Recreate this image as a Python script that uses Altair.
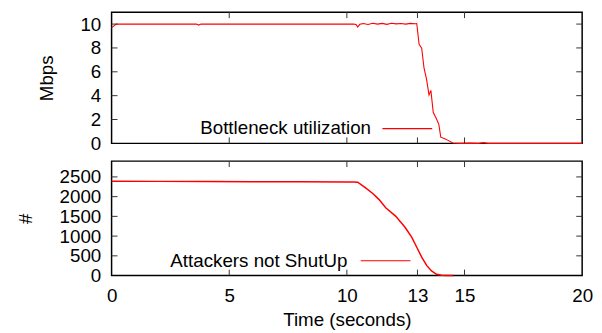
import altair as alt
import pandas as pd

# ---- data ----
util_t = [0.0, 0.1, 0.2, 1.0, 2.0, 3.0, 3.6, 3.7, 3.8, 5.0, 6.0, 7.0, 8.0, 9.0, 10.0,
          10.3, 10.4, 10.46, 10.55, 10.7, 10.9, 11.1, 11.3, 11.5, 11.7, 11.9, 12.1,
          12.3, 12.5, 12.7, 12.9, 12.97, 13.07, 13.18, 13.28, 13.39, 13.49, 13.57,
          13.67, 13.81, 13.91, 13.99, 14.16, 14.3, 14.5, 14.8, 15.2, 15.6, 15.8,
          16.0, 16.5, 17.0, 18.0, 19.0, 20.0]
util_v = [9.7, 9.85, 10.0, 10.0, 10.0, 10.0, 10.0, 9.92, 10.0, 10.0, 10.0, 10.0, 10.0, 10.0, 10.0,
          10.0, 9.95, 9.75, 9.98, 10.05, 9.97, 10.07, 10.0, 10.06, 9.98, 10.07, 10.02,
          10.05, 10.0, 10.06, 10.03, 10.05, 8.3, 7.97, 6.3, 5.35, 4.05, 4.44,
          2.6, 2.04, 1.57, 0.52, 0.39, 0.25, 0.03, 0.0, 0.02, 0.0, 0.06,
          0.0, 0.0, 0.0, 0.0, 0.0, 0.0]

att_t = [0.0, 2.0, 4.0, 6.0, 8.0, 10.0, 10.3, 10.46, 10.81, 11.1, 11.37, 11.65,
         12.07, 12.48, 12.76, 12.97, 13.18, 13.39, 13.6, 13.81, 14.02, 14.3, 14.5]
att_v = [2390, 2387, 2384, 2380, 2376, 2372, 2370, 2367, 2217, 2080, 1925, 1717,
         1508, 1217, 967, 717, 467, 258, 117, 33, 8, 0, 0]

x_labels = [0, 5, 10, 13, 15, 20]
x_ticks = [5, 10, 13, 15]
util_labels = [0, 2, 4, 6, 8, 10]
util_ticks = [2, 4, 6, 8, 10]
att_labels = [0, 500, 1000, 1500, 2000, 2500]
att_ticks = [500, 1000, 1500, 2000, 2500]
legend_top = ["Bottleneck utilization"]
legend_bottom = ["Attackers not ShutUp"]

# ---- styling ----
W = 477
H1 = 133
H2 = 116
FONT = "Liberation Sans"
FS = 19
RED = "#ff0000"
TICK = "#333333"
TL = 6

xscale = alt.Scale(domain=[0, 20], nice=False, zero=False)
y1scale = alt.Scale(domain=[0, 11], nice=False)
y2scale = alt.Scale(domain=[0, 2900], nice=False)

x_axis_top = None
x_axis_bottom = alt.Axis(values=x_labels, title="Time (seconds)", labelPadding=11,
                         titlePadding=6, format="d", labelFlush=False)
y_axis_top = alt.Axis(values=util_labels, title="Mbps", titlePadding=24, format="d")
y_axis_bottom = alt.Axis(values=att_labels, title="#", titlePadding=24, format="d")


def tick_layers(y_vals, yscale, height, xaxis, yaxis):
    xt = pd.DataFrame({"t": x_ticks})
    yt = pd.DataFrame({"v": y_vals})
    out = []
    for y0, y1 in [(height - TL, height), (0, TL)]:
        out.append(alt.Chart(xt).mark_rule(strokeWidth=1).encode(
            x=alt.X("t:Q", scale=xscale, axis=xaxis),
            y=alt.value(y0), y2=alt.value(y1), color=alt.value(TICK)))
    for x0, x1 in [(0, TL), (W - TL, W)]:
        out.append(alt.Chart(yt).mark_rule(strokeWidth=1).encode(
            y=alt.Y("v:Q", scale=yscale, axis=yaxis),
            x=alt.value(x0), x2=alt.value(x1), color=alt.value(TICK)))
    return out


def legend_layers(label, text_x, y, line_x1, line_x2):
    d = pd.DataFrame({"label": label})
    txt = alt.Chart(d).mark_text(align="right", baseline="middle", font=FONT,
                                 fontSize=FS).encode(
        x=alt.value(text_x), y=alt.value(y), text="label:N",
        color=alt.value("black"))
    ln = alt.Chart(d).mark_rule(strokeWidth=1.2).encode(
        x=alt.value(line_x1), x2=alt.value(line_x2), y=alt.value(y),
        color=alt.value(RED))
    return [txt, ln]


# ---- top panel ----
df1 = pd.DataFrame({"t": util_t, "v": util_v})
line1 = alt.Chart(df1).mark_line(strokeWidth=1.1).encode(
    x=alt.X("t:Q", scale=xscale, axis=x_axis_top),
    y=alt.Y("v:Q", scale=y1scale, axis=y_axis_top),
    color=alt.value(RED))
top = alt.layer(line1, *tick_layers(util_ticks, y1scale, H1, x_axis_top, y_axis_top),
                *legend_layers(legend_top, 263, 118, 274.5, 325)).properties(
    width=W, height=H1)

# ---- bottom panel ----
df2 = pd.DataFrame({"t": att_t, "v": att_v})
line2 = alt.Chart(df2).mark_line(strokeWidth=1.5).encode(
    x=alt.X("t:Q", scale=xscale, axis=x_axis_bottom),
    y=alt.Y("v:Q", scale=y2scale, axis=y_axis_bottom),
    color=alt.value(RED))
bottom = alt.layer(line2, *tick_layers(att_ticks, y2scale, H2, x_axis_bottom, y_axis_bottom),
                   *legend_layers(legend_bottom, 239, 101, 252.5, 303)).properties(
    width=W, height=H2)

chart = alt.vconcat(top, bottom, spacing=18, bounds="flush").properties(
    padding={"top": 0, "left": 7, "right": 0, "bottom": 0}
).configure_view(
    stroke="black", strokeWidth=1.5
).configure_axis(
    labelFont=FONT, labelFontSize=FS, labelColor="black",
    titleFont=FONT, titleFontSize=FS, titleFontWeight="normal", titleColor="black",
    grid=False, domain=False, ticks=False, tickSize=0, labelPadding=11
)

chart.save("out.html", embed_options={"renderer": "svg", "actions": False})
